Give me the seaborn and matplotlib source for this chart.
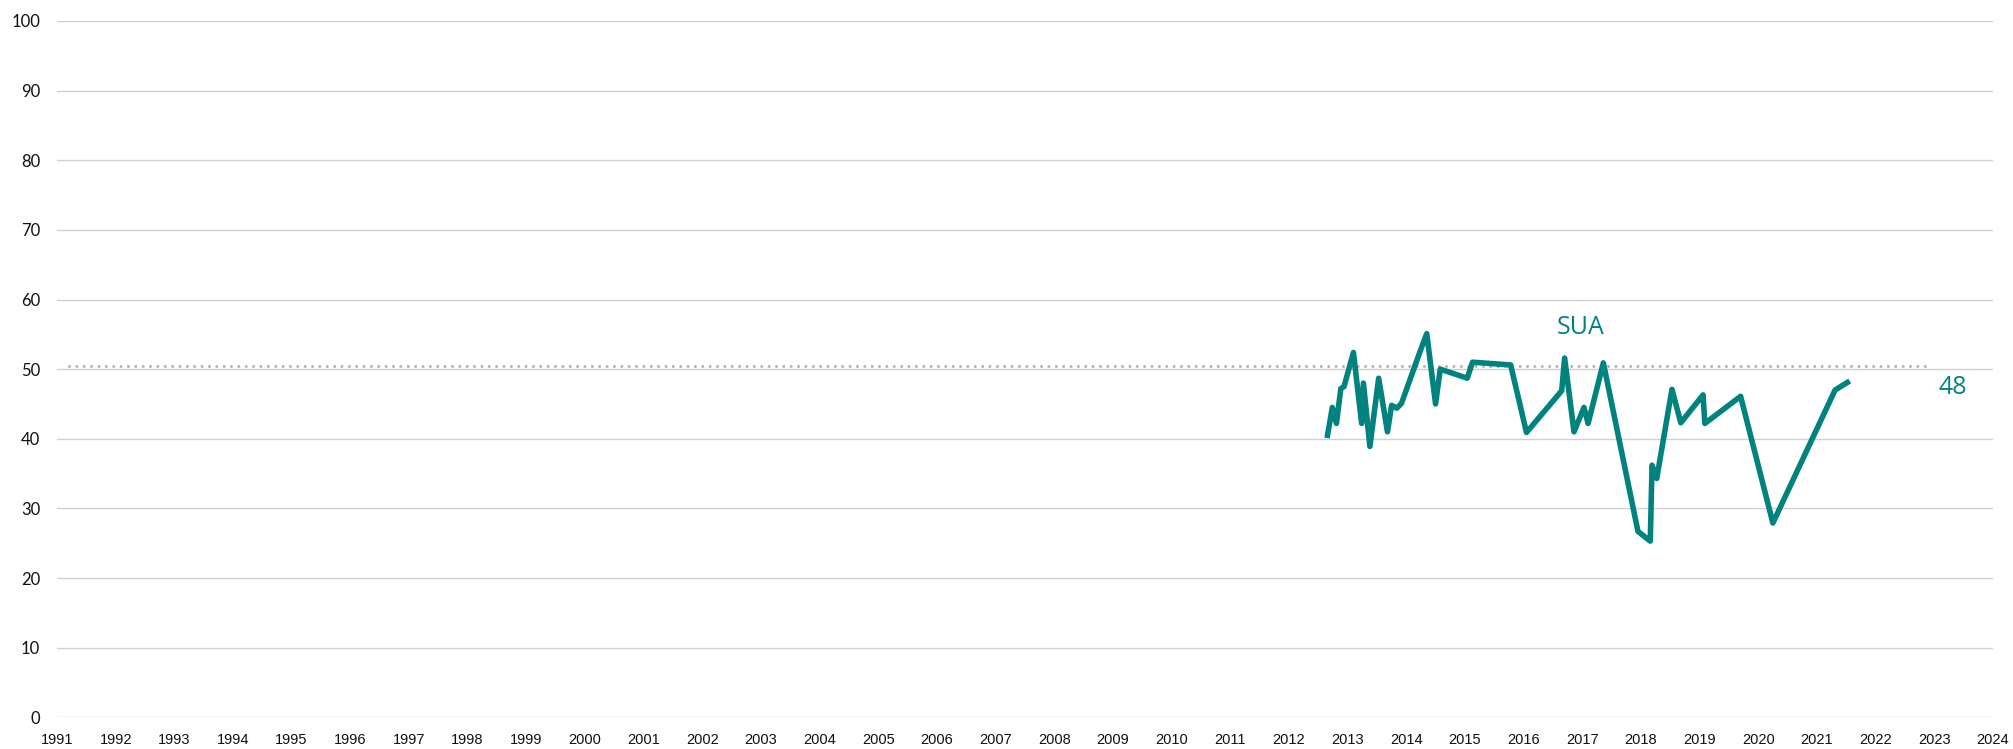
import matplotlib
matplotlib.use("Agg")
import matplotlib.pyplot as plt
import seaborn as sns
import pandas as pd

# Survey series (fractional year, index value)
years = [2012.65, 2012.74, 2012.81, 2012.885, 2012.94, 2013.10, 2013.24, 2013.27,
         2013.38, 2013.53, 2013.68, 2013.75, 2013.84, 2013.92, 2014.23, 2014.35,
         2014.50, 2014.58, 2015.04, 2015.13, 2015.78, 2016.05, 2016.65, 2016.70,
         2016.86, 2017.03, 2017.10, 2017.36, 2017.95, 2018.16, 2018.19, 2018.27,
         2018.53, 2018.68, 2019.06, 2019.09, 2019.70, 2020.25, 2021.31, 2021.56]
values = [40.1, 44.5, 42.2, 47.2, 47.5, 52.4, 42.2, 48.0,
          38.9, 48.7, 41.0, 44.8, 44.4, 45.1, 52.4, 55.1,
          45.0, 50.0, 48.7, 51.0, 50.6, 40.9, 46.9, 51.6,
          41.0, 44.5, 42.2, 50.9, 26.7, 25.3, 36.2, 34.3,
          47.1, 42.3, 46.3, 42.2, 46.1, 27.9, 47.0, 48.3]
series_name = "SUA"

# Reference level (dotted) and its span
ref_level = 50.4
ref_span = [1991.2, 2022.85]

x_ticks = list(range(1991, 2025))
x_tick_labels = [str(y) for y in x_ticks]
y_ticks = list(range(0, 101, 10))
y_tick_labels = [str(v) for v in y_ticks]

teal = "#00827F"
grid_grey = "#D0D0D0"

sns.set_style("white")
plt.rcParams["font.family"] = ["Liberation Sans", "DejaVu Sans"]

fig = plt.figure(figsize=(20.13, 7.49), dpi=100)
ax = fig.add_axes([0.0283, 0.0423, 0.9617, 0.9297])

df = pd.DataFrame({"year": years, "value": values})
ref_df = pd.DataFrame({"year": ref_span, "value": [ref_level, ref_level]})

ax.set_axisbelow(True)
ax.yaxis.grid(True, color=grid_grey, linewidth=1.0)
ax.xaxis.grid(False)

sns.lineplot(data=ref_df, x="year", y="value", ax=ax, color="#B4B4B4",
             linewidth=2.2, dashes=False, zorder=2)
ax.lines[-1].set_dashes([0.01, 2.4])
ax.lines[-1].set_dash_capstyle("round")

sns.lineplot(data=df, x="year", y="value", ax=ax, color=teal,
             linewidth=4.0, zorder=3)
ax.lines[-1].set_solid_joinstyle("round")
ax.lines[-1].set_solid_capstyle("butt")

ax.text(2016.98, 56.0, series_name, color=teal, fontsize=18,
        family=["Open Sans", "DejaVu Sans"], ha="center", va="center")
ax.text(2023.32, 47.4, f"{values[-1]:.0f}", color=teal, fontsize=18,
        family=["Open Sans", "DejaVu Sans"], ha="center", va="center")

ax.set_xlim(1991, 2024)
ax.set_ylim(0, 100)
ax.set_xticks(x_ticks)
ax.set_xticklabels(x_tick_labels, fontsize=10.5)
ax.set_yticks(y_ticks)
ax.set_yticklabels(y_tick_labels, fontsize=12, family=["Lato", "DejaVu Sans"])
ax.tick_params(axis="x", length=0, pad=11, colors="#111111")
ax.tick_params(axis="y", length=0, pad=12, colors="#111111")
ax.set_xlabel("")
ax.set_ylabel("")
for s in ax.spines.values():
    s.set_visible(False)

fig.savefig("out.png", dpi=100)
